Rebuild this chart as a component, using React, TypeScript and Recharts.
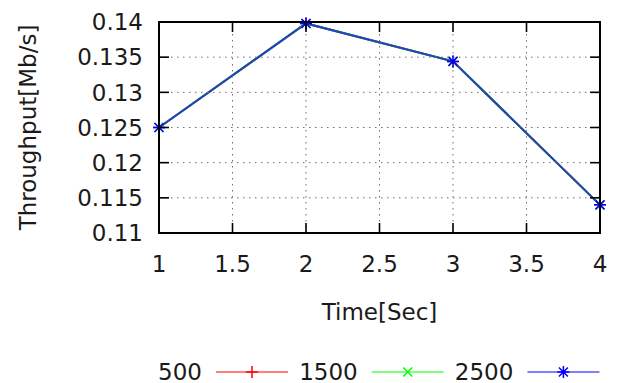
import React from "react";
import { LineChart, Line, XAxis, YAxis } from "recharts";

// Throughput vs time, gnuplot style. The three runs overlap, 2500 drawn last.
const times = [1, 2, 3, 4];
const series500 = [0.125, 0.1398, 0.1344, 0.114];
const series1500 = [0.125, 0.1398, 0.1344, 0.114];
const series2500 = [0.125, 0.1398, 0.1344, 0.114];
const xTicks = [1, 1.5, 2, 2.5, 3, 3.5, 4];
const yTicks = [0.11, 0.115, 0.12, 0.125, 0.13, 0.135, 0.14];

const seriesMeta = [
  { key: "s500", name: "500", color: "#ff0000", line: "#ff0000", mark: "plus" },
  { key: "s1500", name: "1500", color: "#00ff00", line: "#00ff00", mark: "cross" },
  { key: "s2500", name: "2500", color: "#0000ff", line: "#2040c8", mark: "star" },
];

const rows = times.map((t, i) => ({
  t,
  s500: series500[i],
  s1500: series1500[i],
  s2500: series2500[i],
}));

const FONT = "DejaVu Sans, sans-serif";
const FS = 23;
const INK = "#1a1a1a";
// plot box edges, used for the mirrored inward ticks, grid and border
const TOP = 22;
const BOTTOM = 233;
const LEFT = 159;
const RIGHT = 600;
const TICK = 10;
const KEY_H = 44;
const GRID = { stroke: "#6e6e6e", strokeWidth: 1, strokeDasharray: "1.5 4.5" };

function Marker({ cx, cy, color, mark, r = 6 }: any) {
  if (cx == null || cy == null) return null;
  const d = r * 0.75;
  const plus = `M${cx - r},${cy}H${cx + r}M${cx},${cy - r}V${cy + r}`;
  const cross = `M${cx - d},${cy - d}L${cx + d},${cy + d}M${cx - d},${cy + d}L${cx + d},${cy - d}`;
  const path = mark === "plus" ? plus : mark === "cross" ? cross : plus + cross;
  return <path d={path} stroke={color} strokeWidth={1.5} fill="none" />;
}

// grid line + inward ticks (bottom and mirrored top) + label; the first tick also draws the border
function XTick(props: any) {
  const { x, y, payload } = props;
  const edge = payload.value === xTicks[0] || payload.value === xTicks[xTicks.length - 1];
  return (
    <g>
      {!edge && <line x1={x} x2={x} y1={TOP} y2={BOTTOM} {...GRID} />}
      {payload.value === xTicks[0] && (
        <rect x={LEFT} y={TOP} width={RIGHT - LEFT} height={BOTTOM - TOP} fill="none" stroke="#000000" strokeWidth={2} />
      )}
      <line x1={x} x2={x} y1={BOTTOM} y2={BOTTOM - TICK} stroke="#000000" strokeWidth={1.6} />
      <line x1={x} x2={x} y1={TOP} y2={TOP + TICK} stroke="#000000" strokeWidth={1.6} />
      <text x={x} y={y} dy="0.71em" textAnchor="middle" fontFamily={FONT} fontSize={FS} fill={INK}>
        {payload.value}
      </text>
    </g>
  );
}

function YTick(props: any) {
  const { x, y, payload } = props;
  const edge = payload.value === yTicks[0] || payload.value === yTicks[yTicks.length - 1];
  return (
    <g>
      {!edge && <line x1={LEFT} x2={RIGHT} y1={y} y2={y} {...GRID} />}
      <line x1={LEFT} x2={LEFT + TICK} y1={y} y2={y} stroke="#000000" strokeWidth={1.6} />
      <line x1={RIGHT} x2={RIGHT - TICK} y1={y} y2={y} stroke="#000000" strokeWidth={1.6} />
      <text x={x} y={y} dy="0.36em" textAnchor="end" fontFamily={FONT} fontSize={FS} fill={INK}>
        {payload.value}
      </text>
    </g>
  );
}

function GnuLegend() {
  // gnuplot key: right-aligned label, then a sample line with its point
  const cy = 33;
  return (
    <svg
      width={620}
      height={KEY_H}
      style={{ position: "absolute", left: 0, top: 383 - KEY_H, display: "block" }}
    >
      {seriesMeta.map((s, i) => {
        const tx = 202 + i * 155.7;
        const x0 = tx + 14;
        const x1 = x0 + 72;
        return (
          <g key={s.key}>
            <text x={tx} y={cy} dy="0.36em" textAnchor="end" fontFamily={FONT} fontSize={FS} fill={INK}>
              {s.name}
            </text>
            <line x1={x0} x2={x1} y1={cy} y2={cy} stroke={s.color} strokeWidth={1.2} />
            <Marker cx={(x0 + x1) / 2} cy={cy} color={s.color} mark={s.mark} r={6} />
          </g>
        );
      })}
    </svg>
  );
}

export default function App() {
  return (
    <div style={{ position: "fixed", left: 0, top: 0, width: 620, height: 383, background: "#fff" }}>
      <LineChart
        width={620}
        height={383}
        data={rows}
        margin={{ top: TOP, right: 620 - RIGHT, left: 0, bottom: KEY_H }}
      >
        <XAxis
          dataKey="t"
          type="number"
          domain={[1, 4]}
          ticks={xTicks}
          height={383 - BOTTOM - KEY_H}
          tickSize={0}
          tickMargin={23}
          tick={<XTick />}
          tickLine={false}
          axisLine={{ stroke: "#000000", strokeWidth: 2 }}
          label={{
            value: "Time[Sec]",
            position: "insideBottom",
            offset: 19,
            style: { fontFamily: FONT, fontSize: FS, fill: INK },
          }}
        />
        <YAxis
          type="number"
          domain={[0.11, 0.14]}
          ticks={yTicks}
          width={LEFT}
          tickSize={0}
          tickMargin={16}
          tick={<YTick />}
          tickLine={false}
          axisLine={{ stroke: "#000000", strokeWidth: 2 }}
          label={{
            value: "Throughput[Mb/s]",
            angle: -90,
            position: "insideLeft",
            offset: 28,
            style: { textAnchor: "middle", fontFamily: FONT, fontSize: FS, fill: INK },
          }}
        />
        {seriesMeta.map((s) => (
          <Line
            key={s.key}
            dataKey={s.key}
            name={s.name}
            type="linear"
            stroke={s.line}
            strokeWidth={2}
            fill="none"
            isAnimationActive={false}
            dot={(p: any) => (
              <Marker key={`${s.key}-${p.index}`} cx={p.cx} cy={p.cy} color={s.color} mark={s.mark} r={6} />
            )}
            activeDot={false}
          />
        ))}
      </LineChart>
      <GnuLegend />
    </div>
  );
}
